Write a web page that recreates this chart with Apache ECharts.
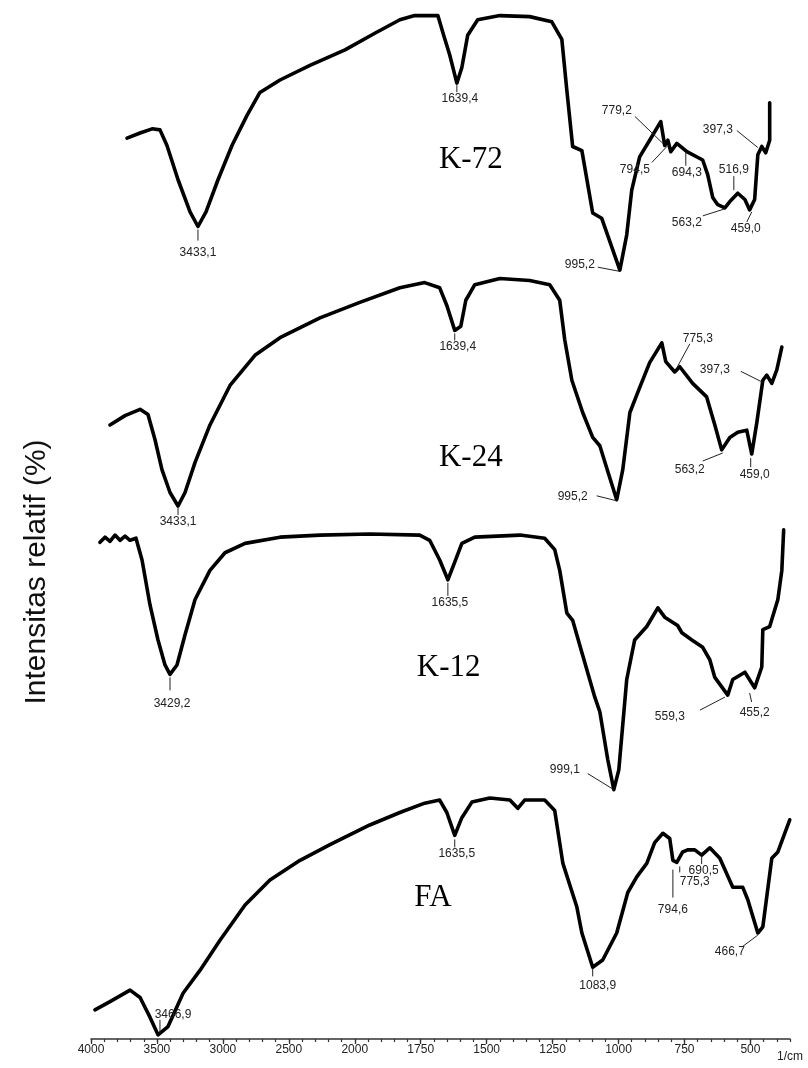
<!DOCTYPE html>
<html><head><meta charset="utf-8">
<script src="https://cdn.jsdelivr.net/npm/echarts@6/dist/echarts.min.js"></script>
<style>html,body{margin:0;padding:0;background:#fff}#c{width:808px;height:1068px}</style>
</head><body><div id="c"></div><script>
// Tick labels (wavenumber, 1/cm)
const tickLabels = [4000, 3500, 3000, 2500, 2000, 1750, 1500, 1250, 1000, 750, 500];
const sampleNames = ['K-72', 'K-24', 'K-12', 'FA'];

// Spectra: [wavenumber position on the plotted axis, relative intensity (stacked)]
const k72 = [[3727,86.7],[3628,87.2],[3537,87.6],[3477,87.5],[3424,86.0],[3340,82.7],[3249,79.6],[3189,78.2],[3128,79.6],[3037,82.7],[2931,86.0],[2817,88.9],[2719,91.1],[2567,92.3],[2340,93.7],[2074,95.2],[1924,96.8],[1829,98.1],[1773,98.5],[1685,98.5],[1663,96.6],[1640,94.7],[1613,92.0],[1594,93.5],[1572,96.6],[1534,98.1],[1450,98.5],[1337,98.4],[1253,97.9],[1215,96.2],[1196,91.3],[1174,85.9],[1139,85.5],[1098,79.5],[1064,79.0],[995,74.0],[969,77.4],[950,81.7],[920,84.9],[882,86.5],[840,88.3],[825,86.0],[813,86.5],[802,85.4],[779,86.2],[741,85.4],[681,84.6],[662,83.2],[643,81.0],[624,80.3],[597,80.0],[578,80.6],[548,81.4],[521,80.8],[503,79.8],[484,80.8],[472,85.1],[457,85.9],[442,85.3],[427,86.5],[427,90.1]];
const k24 = [[3856,59.1],[3742,60.0],[3628,60.6],[3568,60.1],[3515,57.7],[3462,54.8],[3401,52.6],[3340,51.3],[3287,52.6],[3211,55.5],[3098,59.1],[2946,62.9],[2757,65.8],[2567,67.5],[2264,69.4],[1981,70.9],[1829,72.3],[1735,72.8],[1678,72.3],[1651,70.6],[1621,68.2],[1598,68.6],[1579,71.1],[1545,72.6],[1450,73.2],[1337,73.0],[1261,72.6],[1223,71.1],[1204,67.3],[1177,63.4],[1136,60.3],[1098,57.9],[1071,57.1],[1033,54.0],[1007,51.9],[984,54.8],[957,60.3],[920,62.7],[882,65.1],[836,67.0],[821,65.2],[787,64.2],[768,64.7],[719,63.1],[666,61.8],[635,59.1],[609,56.7],[578,57.9],[548,58.4],[514,58.6],[495,56.3],[476,59.3],[453,63.4],[438,63.9],[419,63.1],[400,64.4],[381,66.6]];
const k12 = [[3932,47.8],[3894,48.3],[3856,47.9],[3818,48.5],[3780,48.0],[3742,48.4],[3704,48.0],[3659,48.2],[3613,46.1],[3553,41.8],[3492,38.4],[3439,36.0],[3401,35.1],[3348,36.0],[3287,38.9],[3211,42.3],[3098,45.1],[2984,46.8],[2832,47.7],[2567,48.3],[2264,48.5],[1943,48.6],[1754,48.5],[1716,48.0],[1678,46.1],[1647,44.2],[1621,45.9],[1594,47.7],[1545,48.3],[1374,48.5],[1280,48.2],[1242,47.1],[1223,45.1],[1196,41.0],[1174,40.3],[1139,37.2],[1090,32.9],[1071,31.5],[1041,26.9],[1018,24.0],[999,25.9],[969,34.6],[939,38.4],[893,39.7],[851,41.5],[825,40.6],[776,39.8],[760,39.1],[722,38.4],[681,37.7],[654,36.5],[635,34.8],[586,33.1],[567,34.6],[521,35.3],[484,33.8],[457,35.8],[453,39.4],[427,39.7],[396,42.3],[381,45.1],[374,49.0]];
const fa = [[3970,2.8],[3856,3.6],[3704,4.7],[3628,4.0],[3553,2.1],[3492,0.4],[3416,1.2],[3302,4.4],[3174,6.6],[3022,9.5],[2832,12.9],[2643,15.3],[2415,17.2],[2188,18.7],[1943,20.6],[1829,21.8],[1735,22.7],[1678,23.0],[1651,21.8],[1621,19.6],[1594,21.3],[1556,22.8],[1488,23.2],[1412,23.0],[1382,22.2],[1356,23.0],[1280,23.0],[1242,22.0],[1211,16.9],[1158,12.7],[1139,10.2],[1098,6.9],[1060,7.6],[1007,10.2],[965,14.1],[931,15.6],[893,16.9],[863,18.9],[832,19.8],[806,19.3],[794,17.2],[779,17.0],[757,18.0],[738,18.2],[711,18.2],[685,17.7],[654,18.4],[616,17.4],[567,14.6],[529,14.6],[510,13.4],[472,10.2],[453,10.8],[419,17.4],[396,18.0],[370,19.8],[351,21.1]];

// Peak annotations: text + anchor point [wavenumber, intensity]
const peakText = ['3433,1','1639,4','995,2','779,2','794,5','694,3','563,2','516,9','459,0','397,3',
                  '3433,1','1639,4','995,2','775,3','397,3','563,2','459,0',
                  '3429,2','1635,5','999,1','559,3','455,2',
                  '3466,9','1635,5','1083,9','794,6','690,5','775,3','466,7'];
const peakAnchor = [[3189,78.0],[1613,91.9],[999,73.9],[832,86.2],[813,86.0],[745,85.4],[597,79.9],[563,81.7],[495,79.6],[472,85.8],
                    [3340,51.2],[1621,68.0],[1007,51.8],[779,64.6],[453,63.2],[605,56.4],[499,56.0],
                    [3401,34.9],[1647,44.0],[1018,24.0],[597,32.9],[503,33.3],
                    [3477,0.4],[1621,19.4],[1098,6.8],[794,16.5],[685,17.7],[768,16.8],[472,10.0]];
// Sample name anchors [wavenumber, intensity]
const nameAnchor = [[1560,84.6],[1560,55.9],[1644,35.7],[1704,13.6]];

// Layout (px offsets from anchor): [labelDx, labelDy, lineX1, lineY1, lineX2, lineY2]
const peakLayout = [[0,24,0,1,0,12],[3,15,0,1,0,8],[-39,-6,-21,-4,0,0],[-46,-33,-28,-27,0,0],[-33,24,-16,17,0,0],[1,21,0,0,0,14],[-38,14,-22,7,0,0],[0,-20,0,-14,0,0],[-6,17,-5,10,0,0],[-40,-18,-21,-17,0,0],
                    [0,15,0,1,0,8],[3,14,0,1,0,8],[-44,-4,-20,-5,0,0],[21,-29,13,-24,0,0],[-48,-13,-22,-11,0,0],[-33,17,-20,8,0,0],[4,18,0,1,0,10],
                    [2,27,0,1,0,14],[2,21,0,1,0,14],[-49,-20,-26,-16,0,0],[-55,20,-25,13,0,0],[5,20,2,9,0,0],
                    [13,-20,0,-2,0,-15],[2,16,0,2,0,10],[5,17,0,0,0,8],[0,42,0,2,0,30],[2,16,0,2,0,9],[15,17,0,2,0,8],[-28,17,-16,12,0,0]];

// Piecewise axis: above 2000 1/cm the scale is compressed 2x
function toAxis(w) { return w > 2000 ? 2000 + (w - 2000) / 2 : w; }
function fromAxis(t) { return t > 2000 ? 2000 + (t - 2000) * 2 : t; }

const minorTicks = [];
for (let t = 350; t <= 3000; t += 50) minorTicks.push(t);
const majorTicks = tickLabels.map(toAxis);

const FONT = '"Liberation Sans", Arial, sans-serif';
const conv = arr => arr.map(p => [toAxis(p[0]), p[1]]);

function lineSeries(name, data) {
  return {
    name, type: 'line', data: conv(data), showSymbol: false, symbol: 'none',
    lineStyle: { color: '#000', width: 3.6, join: 'round', cap: 'round' },
    animation: false, z: 3
  };
}

const chart = echarts.init(document.getElementById('c'), null, { renderer: 'canvas' });
chart.setOption({
  backgroundColor: '#fff',
  animation: false,
  grid: { left: 91, right: 18, top: 0, bottom: 29 },
  xAxis: [{
    type: 'value', min: 350, max: 3000, inverse: true,
    axisLine: { show: true, lineStyle: { color: '#333', width: 1.5 } },
    axisTick: { show: true, customValues: minorTicks, length: 3, lineStyle: { color: '#333', width: 1.2 } },
    axisLabel: { show: true, customValues: majorTicks, formatter: v => String(Math.round(fromAxis(v))),
      fontFamily: FONT, fontSize: 12, color: '#222', margin: 5 },
    splitLine: { show: false }
  }, {
    type: 'value', min: 350, max: 3000, inverse: true, position: 'bottom',
    axisLine: { show: false },
    axisTick: { show: true, customValues: majorTicks, length: 5, lineStyle: { color: '#333', width: 1.3 } },
    axisLabel: { show: false }, splitLine: { show: false }
  }],
  yAxis: { type: 'value', min: 0, max: 100, show: false },
  series: [
    lineSeries('K-72', k72), lineSeries('K-24', k24), lineSeries('K-12', k12), lineSeries('FA', fa),
    {
      type: 'custom', name: 'peaks', data: conv(peakAnchor), z: 5, clip: false, silent: true,
      renderItem(params, api) {
        const i = params.dataIndex;
        const p = api.coord([api.value(0), api.value(1)]);
        const L = peakLayout[i];
        return { type: 'group', children: [
          { type: 'line', shape: { x1: p[0] + L[2], y1: p[1] + L[3], x2: p[0] + L[4], y2: p[1] + L[5] },
            style: { stroke: '#222', lineWidth: 1 } },
          { type: 'text', x: p[0] + L[0], y: p[1] + L[1],
            style: { text: peakText[i], fill: '#222', font: '12px ' + FONT, align: 'center', verticalAlign: 'middle' } }
        ]};
      }
    },
    {
      type: 'custom', name: 'names', data: conv(nameAnchor), z: 5, clip: false, silent: true,
      renderItem(params, api) {
        const i = params.dataIndex;
        const p = api.coord([api.value(0), api.value(1)]);
        return { type: 'text', x: p[0], y: p[1],
          style: { text: sampleNames[i], fill: '#000', font: '31px "Liberation Serif", "Times New Roman", serif', align: 'center', verticalAlign: 'middle' } };
      }
    }
  ],
  graphic: [
    { type: 'text', x: 37, y: 572, rotation: Math.PI / 2,
      style: { text: 'Intensitas relatif (%)', fill: '#111', font: '30px ' + FONT, align: 'center', verticalAlign: 'middle' } },
    { type: 'text', x: 777, y: 1057,
      style: { text: '1/cm', fill: '#222', font: '12px ' + FONT, align: 'left', verticalAlign: 'middle' } }
  ]
});
</script></body></html>
